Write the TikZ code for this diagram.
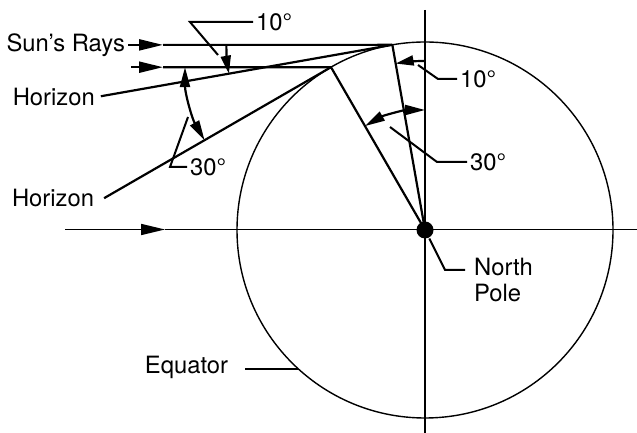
\documentclass[tikz,border=0pt]{standalone}
\usepackage{fontspec}
\setmainfont{TeX Gyre Heros}
\usetikzlibrary{arrows.meta,calc}

\begin{document}
\begin{tikzpicture}[
    x=0.5pt, y=0.5pt,
    line width=1.1pt,
    lbl/.style={inner sep=1pt, font=\fontsize{11.9}{13}\selectfont},
    lead/.style={line width=1pt},
    tip/.style={-{Triangle[length=12pt,width=5.5pt]}},
    tipsm/.style={-{Triangle[length=9pt,width=5pt]}},
    angl/.style={{Triangle[length=10pt,width=5pt]}-{Triangle[length=10pt,width=5pt]}}
  ]
    \useasboundingbox (0,0) rectangle (637,433);

    % Earth and axes
    \coordinate (ctr) at (425,203);
    \draw[line width=0.7pt] (ctr) circle (188);
    \draw (425,423) -- (425,0);
    \coordinate (ax0) at (65,203.5);
    \coordinate (ax1) at (165,203.5);
    \coordinate (ax2) at (637,203.5);
    \draw[tip, line width=0.85pt] (ax0) -- (ax1);
    \draw[line width=0.85pt] (ax1) -- (ax2);
    \node[circle, fill, inner sep=0pt, minimum width=8pt, minimum height=8.5pt] (pole) at (ctr) {};

    % Tangent points and radii
    \coordinate (t10) at ($(ctr)+(100:188)$);
    \coordinate (t30) at ($(ctr)+(120:188)$);
    \draw (ctr) -- (t10);
    \draw (ctr) -- (t30);

    % Sun's rays
    \node[lbl, anchor=east] (sun) at (128,388.1) {Sun's Rays};
    \coordinate (r1) at (163,388.1);
    \coordinate (s2) at (131,365.8);
    \coordinate (r2) at (163,365.8);
    \draw[tip] (sun.east) -- (r1);
    \draw (r1) -- (t10);
    \draw[tip] (s2) -- (r2);
    \draw (r2) -- (t30);

    % Horizons
    \coordinate (h1) at ($(t10)+(190:296)$);
    \coordinate (h2) at ($(t30)+(210:262)$);
    \node[lbl, anchor=east] (hor1) at ($(h1)+(-3,-1)$) {Horizon};
    \node[lbl, anchor=east] (hor2) at ($(h2)+(-7,0)$) {Horizon};
    \draw (h1) -- (t10);
    \draw (h2) -- (t30);

    % Angles at the horizon
    \draw[tipsm] ($(t10)+(180:166)$) arc (180:190:166);
    \draw[angl] ($(t30)+(180:146)$) arc (180:210:146);
    \node[lbl, anchor=west] (d10a) at (253,411) {10°};
    \node[lbl, anchor=west] (d30a) at (187,266) {30°};
    \draw[lead] (218,378) -- (190,411) -- (d10a.west);
    \draw[lead] (188,316) -- (170,266) -- (d30a.west);

    % Angles at the pole
    \draw[tipsm] ($(ctr)+(90:169)$) arc (90:100:169);
    \draw[angl] ($(ctr)+(90:120)$) arc (90:120:120);
    \node[lbl, anchor=west] (d10b) at (457,354) {10°};
    \node[lbl, anchor=west] (d30b) at (467,271) {30°};
    \draw[lead] (418,368) -- (438,354) -- (d10b.west);
    \draw[lead] (390,306) -- (437,271) -- (d30b.west);

    % North Pole and Equator
    \node[lbl, anchor=west, align=left] (np) at (471,153) {North\\Pole};
    \coordinate (npb) at (445,163);
    \draw[lead] (pole) -- (npb) -- ($(np.west |- npb)+(-6,0)$);
    \node[lbl] (eq) at (186.5,66) {Equator};
    \coordinate (eqc) at ($(ctr)+(227.7:188)$);
    \draw[lead] ($(eq.east |- eqc)+(14,0)$) -- (eqc);

\end{tikzpicture}
\end{document}
